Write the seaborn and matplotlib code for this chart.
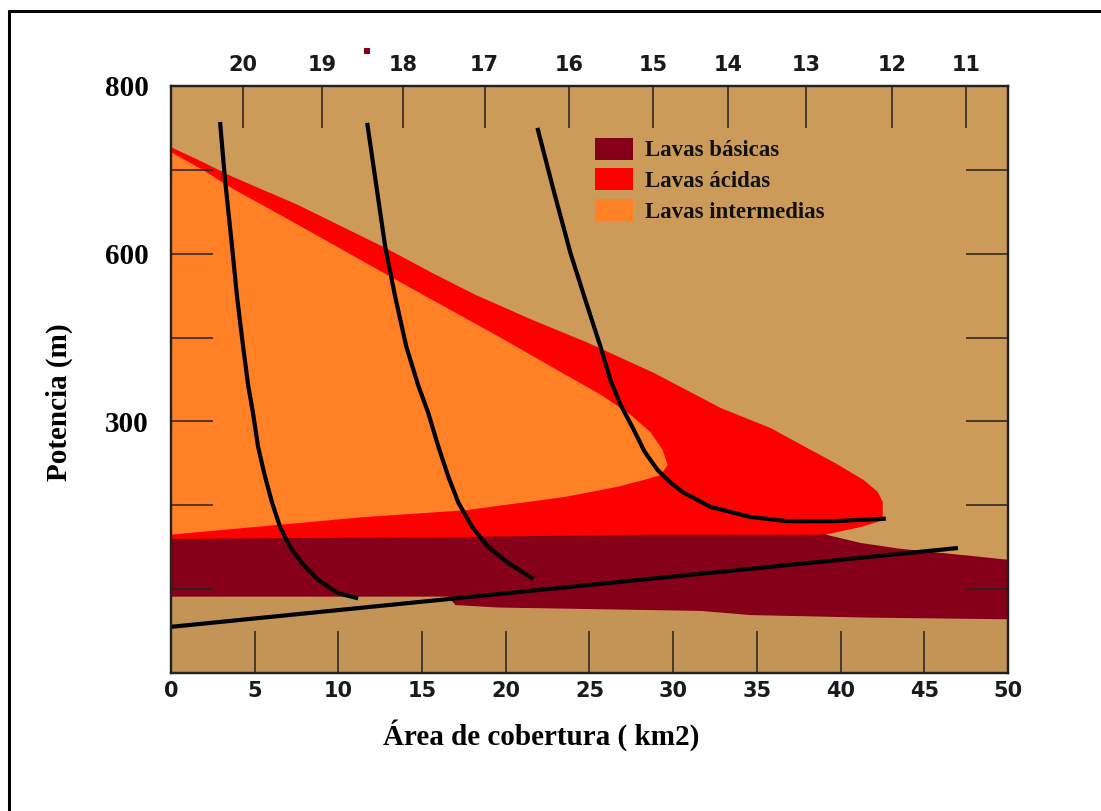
import matplotlib
matplotlib.use("Agg")
import matplotlib.pyplot as plt
import seaborn as sns
import pandas as pd
from matplotlib.patches import Patch, Rectangle
from matplotlib.lines import Line2D

# eje x: área de cobertura (km2); eje y: posición en la escala vertical (100 por marca)
x_ticks = [0, 5, 10, 15, 20, 25, 30, 35, 40, 45, 50]
y_ticks = [0, 100, 200, 300, 400, 500, 600, 700]
y_labels = ["", "", "", "300", "", "600", "", "800"]
top_pos = [4.32, 9.01, 13.86, 18.74, 23.80, 28.80, 33.27, 37.96, 43.06, 47.51]
top_labels = ["20", "19", "18", "17", "16", "15", "14", "13", "12", "11"]

# lavas ácidas (envolvente)
acid_x = [0, 1.61, 3.65, 7.60, 9.63, 12.80, 15.61, 18.18, 21.59, 24.88, 28.83, 32.84,
          35.83, 38.22, 39.71, 41.39, 42.22, 42.52, 42.52, 41.21, 39.11, 39.11, 0]
acid_y = [627, 612, 592, 558, 538, 507, 477, 451, 421, 394, 358, 316,
          292, 266, 250, 230, 216, 204, 182, 174, 165, 150, 150]

# lavas intermedias
inter_x = [0, 1.73, 3.65, 7.72, 13.70, 19.68, 23.27, 25.66, 27.45, 28.65, 29.37, 29.67,
           29.25, 28.23, 26.67, 23.56, 17.58, 11.60, 6.64, 0]
inter_y = [621, 602, 578, 533, 466, 400, 359, 332, 308, 287, 266, 248,
           236, 230, 222, 210, 194, 186, 177, 165]

# lavas básicas
bas_top_x = [0, 16.69, 28.65, 39.11, 41.21, 43.60, 45.57, 47.61, 50]
bas_top_y = [160, 162, 165, 165, 155, 148, 144, 140, 135]
bas_bot_x = [0, 16.57, 16.99, 19.56, 25.54, 31.64, 34.63, 41.63, 50]
bas_bot_y = [91, 91, 81, 78, 76, 74, 69, 66, 64]

# curvas negras
curve_a_x = [2.93, 3.23, 3.65, 3.95, 4.31, 4.61, 4.90, 5.20, 5.62, 6.04, 6.52, 7.12,
             7.83, 8.79, 9.99, 11.18]
curve_a_y = [657, 588, 508, 448, 389, 343, 310, 270, 234, 203, 174, 150,
             131, 111, 95, 89]
curve_b_x = [11.72, 12.26, 12.80, 13.40, 14.06, 14.77, 15.37, 15.97, 16.57, 17.17,
             18.00, 18.96, 20.16, 21.65]
curve_b_y = [656, 582, 508, 448, 389, 343, 310, 270, 234, 203,
             174, 150, 131, 112]
curve_c_x = [21.89, 22.85, 23.86, 24.88, 25.66, 26.26, 26.85, 27.57, 28.29, 29.07,
             29.84, 30.62, 32.24, 34.63, 36.84, 39.59, 42.70]
curve_c_y = [650, 576, 501, 437, 389, 349, 320, 293, 264, 242,
             227, 215, 198, 186, 181, 181, 184]
line_x = [0, 47.01]
line_y = [55, 149]

tan = "#CD9B59"
tan_low = "#C49456"
c_bas = "#850018"
c_acid = "#FF0000"
c_inter = "#FF8025"

sns.set_theme(style="ticks")
plt.rcParams["font.family"] = ["DejaVu Sans"]
serif = ["Liberation Serif", "DejaVu Serif"]

fig = plt.figure(figsize=(11.01, 8.11), dpi=100)
ax = fig.add_axes([0.1553, 0.1702, 0.7602, 0.7238])
ax.set_facecolor(tan)
ax.set_axisbelow(False)
ax.set_xlim(0, 50)
ax.set_ylim(0, 700)

ax.fill_between(bas_bot_x, 0, bas_bot_y, color=tan_low, lw=0, zorder=1.0)
ax.fill(acid_x, acid_y, color=c_acid, lw=0, zorder=1.1)
ax.fill(inter_x, inter_y, color=c_inter, lw=0, zorder=1.2)
ax.fill(bas_top_x + bas_bot_x[::-1], bas_top_y + bas_bot_y[::-1], color=c_bas, lw=0, zorder=1.3)

curves = [(curve_a_x, curve_a_y), (curve_b_x, curve_b_y), (curve_c_x, curve_c_y), (line_x, line_y)]
for cx, cy in curves:
    d = pd.DataFrame({"x": cx, "y": cy})
    sns.lineplot(data=d, x="x", y="y", sort=False, estimator=None, color="black",
                 lw=3, ax=ax, zorder=3, solid_capstyle="butt", solid_joinstyle="round")

ax.set_xticks(x_ticks)
ax.set_xticklabels([str(v) for v in x_ticks], fontsize=15, fontweight="bold", color="#1a1a1a")
ax.set_yticks(y_ticks)
ax.set_yticklabels(y_labels, family=serif, fontsize=21, fontweight="bold", color="black")
ax.tick_params(axis="x", direction="in", length=30, width=1.1, pad=6, color="#222222",
               bottom=True, top=False)
ax.tick_params(axis="y", direction="in", length=30, width=1.1, pad=16, color="#222222",
               left=True, right=True)

ax2 = ax.twiny()
ax2.set_xlim(0, 50)
ax2.set_xticks(top_pos)
ax2.set_xticklabels(top_labels, fontsize=15, fontweight="bold", color="#1a1a1a")
ax2.tick_params(axis="x", direction="in", length=30, width=1.1, pad=8, color="#222222")

for a in (ax, ax2):
    for s in a.spines.values():
        s.set_linewidth(1.6)
        s.set_color("#222222")

ax.set_xlabel("Área de cobertura ( km2)", family=serif, fontsize=21, fontweight="bold",
              color="black")
ax.xaxis.set_label_coords(0.4426, -0.078)
ax.set_ylabel("Potencia (m)", family=serif, fontsize=21, fontweight="bold", color="black")
ax.yaxis.set_label_coords(-0.117, 0.462)

handles = [Patch(facecolor=c_bas, edgecolor="none", label="Lavas básicas"),
           Patch(facecolor=c_acid, edgecolor="none", label="Lavas ácidas"),
           Patch(facecolor=c_inter, edgecolor="none", label="Lavas intermedias")]
leg = ax.legend(handles=handles, loc="upper left", bbox_to_anchor=(0.507, 0.912), frameon=False,
                prop={"family": serif, "size": 16.5, "weight": "bold"}, handlelength=1.65,
                handleheight=1.1, labelspacing=0.3, handletextpad=0.5, borderpad=0,
                borderaxespad=0)
for t in leg.get_texts():
    t.set_color("#111111")

# marco de la figura y pequeño punto
fig.add_artist(Line2D([0.0082, 0.0082], [0, 0.9864], transform=fig.transFigure, color="black", lw=2.2))
fig.add_artist(Line2D([0.0082, 1], [0.9864, 0.9864], transform=fig.transFigure, color="black", lw=2.2))
fig.add_artist(Rectangle((0.3306, 0.9335), 0.0055, 0.0074, transform=fig.transFigure,
                         color=c_bas, lw=0))

fig.savefig("out.png", dpi=100, facecolor="white")
